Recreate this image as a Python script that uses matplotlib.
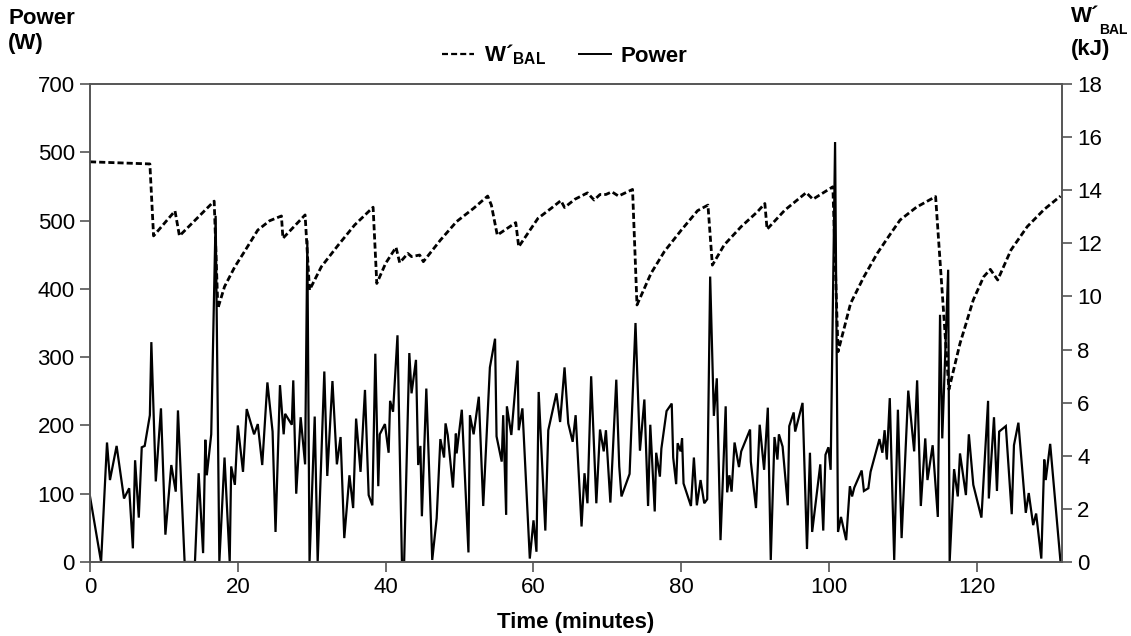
import matplotlib
matplotlib.use("Agg")
import matplotlib.pyplot as plt
from matplotlib.lines import Line2D

plt.rcParams['font.family'] = ['Liberation Sans', 'DejaVu Sans']
plt.rcParams['mathtext.fontset'] = 'custom'
plt.rcParams['mathtext.bf'] = 'Liberation Sans:bold'
plt.rcParams['mathtext.rm'] = 'Liberation Sans'

# ---- data ----
power_time = [0.0, 1.5, 2.3, 2.7, 3.6, 4.6, 5.3, 5.8, 6.1, 6.6, 7.0, 7.4, 8.1, 8.3, 8.9, 9.6,
              10.2, 11.0, 11.6, 11.9, 12.8, 14.2, 14.7, 15.3, 15.6, 15.8, 16.4, 17.0, 17.5,
              18.2, 18.9, 19.1, 19.6, 20.0, 20.7, 21.2, 22.2, 22.7, 23.3, 24.0, 24.7, 25.1,
              25.7, 26.2, 26.4, 27.3, 27.5, 27.9, 28.5, 29.1, 29.4, 29.7, 30.4, 30.8, 31.7,
              32.1, 32.8, 33.4, 33.9, 34.4, 35.1, 35.6, 36.0, 36.6, 37.2, 37.7, 38.2, 38.6,
              39.0, 39.2, 39.9, 40.4, 40.6, 41.0, 41.6, 42.2, 42.5, 43.2, 43.5, 44.1, 44.4,
              44.7, 44.9, 45.5, 46.3, 46.9, 47.4, 47.9, 48.1, 48.4, 49.1, 49.5, 49.6, 50.3,
              51.2, 51.4, 51.9, 52.6, 53.2, 54.1, 54.8, 55.0, 55.7, 55.9, 56.3, 56.4, 57.0,
              57.85, 58.0, 58.5, 59.5, 60.0, 60.4, 60.7, 61.6, 62.0, 63.1, 63.6, 64.2, 64.7,
              65.3, 65.7, 66.5, 66.9, 67.3, 67.8, 68.5, 69.0, 69.5, 69.8, 70.4, 71.2, 71.6,
              71.9, 73.0, 73.8, 74.4, 75.0, 75.5, 75.8, 76.4, 76.6, 77.1, 77.3, 78.0, 78.7,
              78.9, 79.3, 79.5, 79.9, 80.1, 80.3, 81.3, 81.7, 82.1, 82.6, 83.1, 83.5, 83.9,
              84.4, 84.8, 85.3, 86.0, 86.2, 86.5, 86.8, 87.2, 87.8, 88.1, 89.3, 89.4, 90.1,
              90.6, 91.2, 91.7, 92.1, 92.6, 93.0, 93.2, 93.7, 94.4, 94.6, 95.2, 95.4, 96.4,
              97.0, 97.4, 97.7, 98.8, 99.2, 99.5, 99.9, 100.2, 100.8, 101.2, 101.6, 102.3,
              102.8, 103.1, 103.4, 104.4, 104.7, 105.3, 105.6, 106.8, 107.2, 107.5, 107.8,
              108.2, 108.8, 109.3, 109.8, 110.7, 111.5, 111.9, 112.4, 113.0, 113.3, 114.0,
              114.7, 115.0, 115.3, 116.1, 116.3, 116.9, 117.4, 117.7, 118.5, 118.9, 119.5,
              120.6, 121.5, 121.6, 122.3, 122.7, 123.0, 123.9, 124.7, 125.0, 125.6, 126.6,
              127.0, 127.6, 128.0, 128.7, 129.1, 129.3, 129.9, 131.3]
power_w = [96, 0, 175, 120, 170, 93, 108, 20, 149, 65, 168, 170, 215, 322, 118, 225,
           40, 142, 103, 222, 0, 0, 130, 13, 179, 127, 187, 507, 0,
           153, 0, 140, 113, 200, 132, 224, 187, 202, 142, 263, 191, 44,
           259, 187, 217, 201, 266, 100, 212, 143, 471, 0, 213, 0, 279,
           126, 265, 143, 183, 35, 127, 79, 210, 132, 252, 98, 83, 305,
           111, 187, 202, 160, 236, 220, 332, 0, 0, 306, 247, 296, 142,
           170, 67, 254, 3, 64, 180, 153, 203, 186, 109, 188, 159, 223,
           14, 215, 187, 242, 82, 285, 327, 184, 147, 215, 69, 228, 186,
           295, 193, 225, 5, 61, 15, 249, 46, 193, 247, 205, 285, 203,
           176, 215, 52, 130, 86, 272, 86, 194, 162, 193, 87, 267, 140,
           96, 129, 350, 163, 238, 82, 201, 74, 160, 125, 166, 221, 232,
           153, 114, 174, 162, 181, 115, 82, 153, 83, 120, 86, 92, 418,
           214, 269, 32, 228, 102, 127, 103, 175, 139, 162, 194, 147, 79,
           201, 135, 226, 3, 183, 150, 187, 169, 83, 199, 219, 191, 233,
           19, 160, 44, 143, 46, 157, 168, 135, 615, 44, 66, 32,
           111, 96, 109, 134, 104, 108, 132, 180, 160, 193, 150,
           240, 3, 223, 35, 251, 162, 266, 82, 181, 120, 171,
           66, 362, 181, 428, 0, 136, 96, 159, 98, 187, 113,
           65, 236, 93, 212, 104, 191, 199, 70, 171, 204, 72,
           101, 54, 71, 5, 150, 120, 173, 0]

wbal_time = [0, 8.1, 8.6, 11.5, 12.1, 16.8, 17.3, 18.2, 19.6, 20.9, 22.7, 24.3, 25.9, 26.1,
             29.1, 29.7, 31.3, 33.6, 35.8, 38.3, 38.8, 40.0, 41.4, 41.9, 43.0, 43.5, 44.6,
             45.1, 47.4, 49.6, 51.9, 53.8, 54.3, 55.1, 57.6, 58.0, 60.6, 62.4, 63.7, 64.2,
             65.6, 67.3, 68.2, 69.0, 69.8, 70.6, 71.5, 73.4, 74.0, 75.9, 77.7, 80.0, 82.2,
             83.6, 84.2, 85.8, 88.1, 90.3, 91.3, 91.6, 94.0, 96.9, 97.8, 100.5, 101.2, 102.9,
             104.7, 106.5, 108.1, 109.6, 111.8, 114.4, 116.2, 117.7, 119.5, 120.9, 121.8,
             122.8, 124.6, 126.8, 129.1, 131.3]
wbal_kj = [15.07, 14.99, 12.28, 13.22, 12.28, 13.59, 9.55, 10.37, 11.12, 11.69, 12.5, 12.85,
           13.03, 12.19, 13.07, 10.24, 11.12, 11.94, 12.69, 13.36, 10.49, 11.25, 11.85, 11.27,
           11.62, 11.5, 11.56, 11.31, 12.12, 12.82, 13.32, 13.78, 13.44, 12.31, 12.78, 11.87,
           12.94, 13.32, 13.61, 13.35, 13.66, 13.9, 13.63, 13.84, 13.84, 13.94, 13.78, 14.03,
           9.68, 10.87, 11.69, 12.5, 13.23, 13.44, 11.18, 11.94, 12.63, 13.19, 13.5, 12.53,
           13.25, 13.91, 13.66, 14.13, 7.92, 9.74, 10.74, 11.62, 12.28, 12.88, 13.36, 13.76,
           6.5, 8.23, 9.87, 10.74, 11.02, 10.62, 11.75, 12.63, 13.28, 13.78]

left_ticks = [0, 100, 200, 300, 400, 500, 600, 700]
left_tick_labels = ["0", "100", "200", "300", "400", "500", "500", "700"]
right_ticks = [0, 2, 4, 6, 8, 10, 12, 14, 16, 18]
x_ticks = [0, 20, 40, 60, 80, 100, 120]

# ---- figure ----
fig = plt.figure(figsize=(11.31, 6.36), dpi=100)
ax = fig.add_axes([90/1131, 1 - 562/636, (1062 - 90)/1131, (562 - 84)/636])
ax2 = ax.twinx()

spine_col = '#555555'
fs = 16

ax.plot(power_time, power_w, color='black', lw=1.6, solid_joinstyle='miter')
ax2.plot(wbal_time, wbal_kj, color='black', lw=2.0, dashes=(2.2, 1.1))

ax.set_xlim(0, 131.5)
ax.set_ylim(0, 700)
ax2.set_ylim(0, 18)
ax.set_xticks(x_ticks)
ax.set_yticks(left_ticks)
ax.set_yticklabels(left_tick_labels)
ax2.set_yticks(right_ticks)

for a in (ax, ax2):
    for s in a.spines.values():
        s.set_color(spine_col)
        s.set_linewidth(1.2)
    a.tick_params(direction='out', length=7, width=1.2, color=spine_col,
                  labelsize=fs, labelcolor='black', pad=4)

ax.set_xlabel('Time (minutes)', fontsize=fs, fontweight='bold', labelpad=10)

fig.text(8/1131, 1 - 8/636, 'Power\n(W)', fontsize=fs, fontweight='bold',
         ha='left', va='top', linespacing=1.25)
# right axis label: W´ with small subscript BAL, then (kJ)
fig.text(1071/1131, 1 - 6/636, "W´", fontsize=fs, fontweight='bold',
         ha='left', va='top')
fig.text(1099/1131, 1 - 34/636, "BAL", fontsize=10, fontweight='bold',
         ha='left', va='baseline')
fig.text(1071/1131, 1 - 39/636, "(kJ)", fontsize=fs, fontweight='bold',
         ha='left', va='top')

handles = [Line2D([], [], color='black', lw=1.6, dashes=(2.7, 1.4)),
           Line2D([], [], color='black', lw=1.4)]
fig.legend(handles, ["W´$_{\\mathbf{BAL}}$", "Power"], loc='center',
           bbox_to_anchor=(565/1131, 1 - 55/636), ncol=2, frameon=False,
           prop={'size': fs, 'weight': 'bold'}, handlelength=1.45, columnspacing=1.45,
           handletextpad=0.45)

fig.savefig('out.png', dpi=100)
